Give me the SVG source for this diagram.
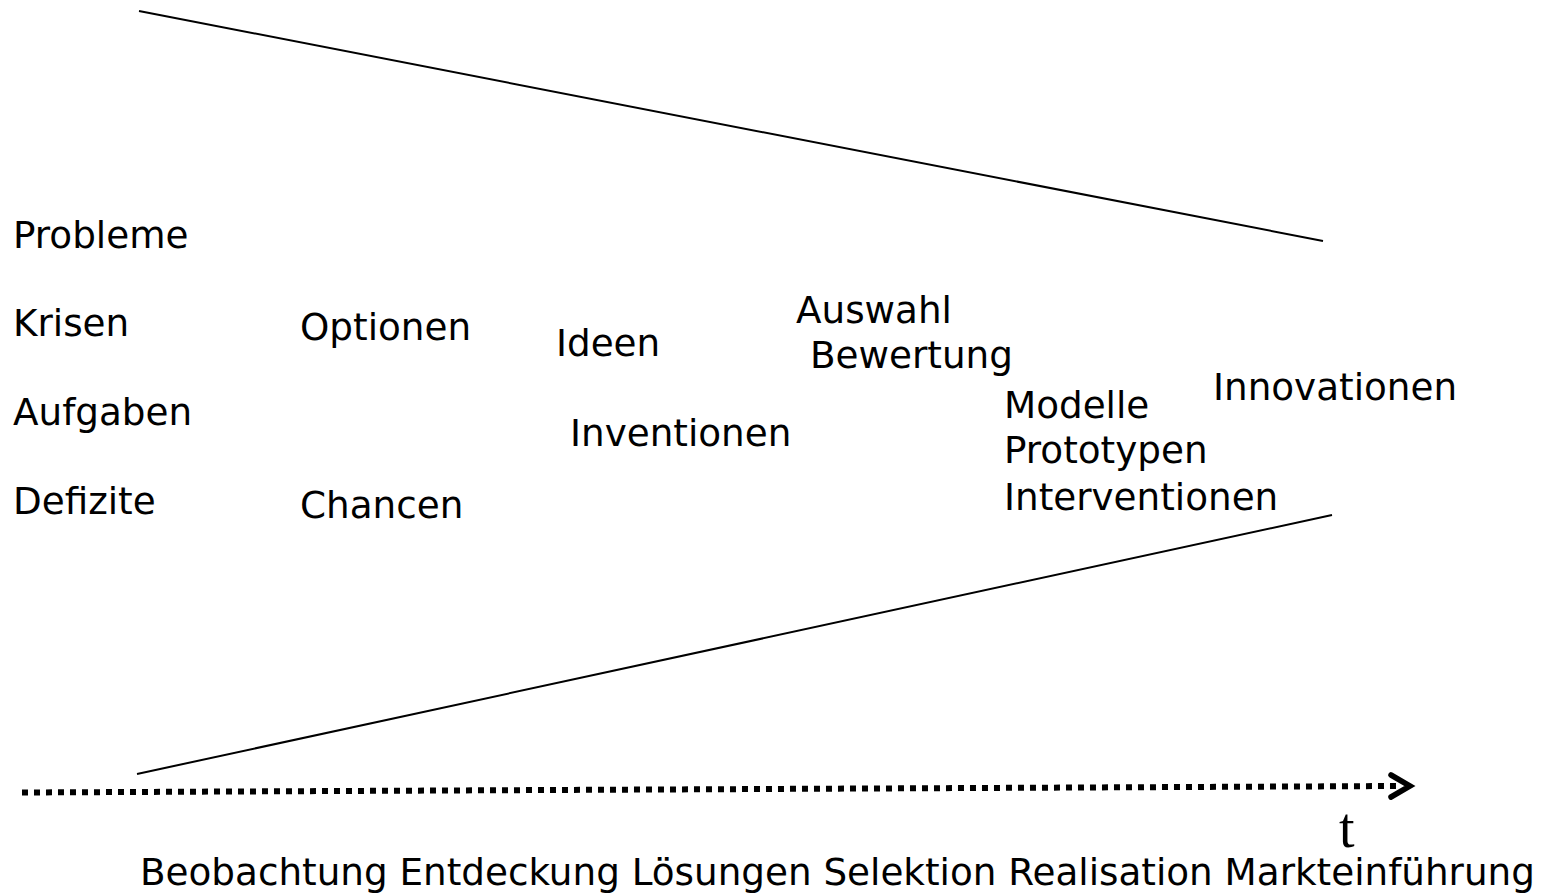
<svg xmlns="http://www.w3.org/2000/svg" width="1551" height="896" viewBox="0 0 1551 896">
<style>
.lbl{font-family:"DejaVu Sans",Verdana,sans-serif;font-size:37.3px;fill:#000}
.ser{font-family:"Liberation Serif","Times New Roman",serif;font-size:56px;fill:#000}
.ln{stroke:#000;stroke-width:2;fill:none}
</style>
<rect width="1551" height="896" fill="#fff"/>
<g id="connectors">
<line class="ln" x1="139" y1="11" x2="1323" y2="241"/>
<line class="ln" x1="137" y1="774" x2="1332" y2="515"/>
<line id="timeline" x1="22" y1="792.5" x2="1398" y2="786" stroke="#000" stroke-width="6" stroke-dasharray="6 6"/>
<polyline points="1391,775 1410,786 1391,797" fill="none" stroke="#000" stroke-width="5.5" stroke-linejoin="miter" stroke-linecap="round"/>
</g>
<g id="col1">
<text class="lbl" x="13" y="248">Probleme</text>
<text class="lbl" x="13" y="336">Krisen</text>
<text class="lbl" x="13" y="425">Aufgaben</text>
<text class="lbl" x="13" y="514">Defizite</text>
</g>
<g id="col2">
<text class="lbl" x="300" y="340">Optionen</text>
<text class="lbl" x="300" y="518">Chancen</text>
</g>
<g id="col3">
<text class="lbl" x="556" y="356">Ideen</text>
<text class="lbl" x="570" y="446">Inventionen</text>
</g>
<g id="col4">
<text class="lbl" x="796" y="323">Auswahl</text>
<text class="lbl" x="810" y="368">Bewertung</text>
</g>
<g id="col5">
<text class="lbl" x="1004" y="418">Modelle</text>
<text class="lbl" x="1004" y="463">Prototypen</text>
<text class="lbl" x="1004" y="510">Interventionen</text>
</g>
<g id="col6">
<text class="lbl" x="1213" y="400">Innovationen</text>
</g>
<g id="axis">
<text class="ser" x="1339" y="847">t</text>
<text class="lbl" x="140" y="885">Beobachtung Entdeckung Lösungen Selektion Realisation Markteinführung</text>
</g>
</svg>
